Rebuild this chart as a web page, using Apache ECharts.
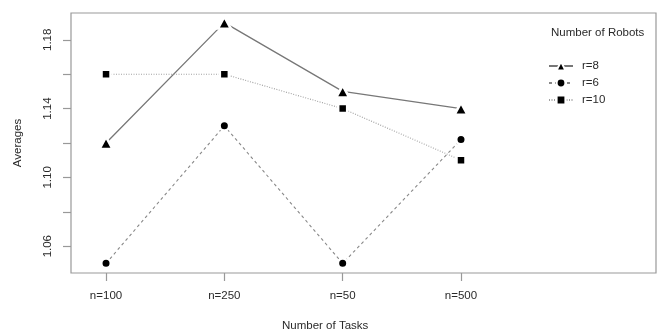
<!DOCTYPE html>
<html><head><meta charset="utf-8">
<script src="https://cdn.jsdelivr.net/npm/echarts@6/dist/echarts.min.js"></script>
<style>html,body{margin:0;padding:0;background:#fff}#c{width:661px;height:336px}</style>
</head><body><div id="c"></div>
<script>
var categories = ['n=100', 'n=250', 'n=50', 'n=500'];
var seriesNames = ['r=8', 'r=6', 'r=10'];
var r8 = [1.12, 1.19, 1.15, 1.14];
var r6 = [1.05, 1.13, 1.05, 1.122];
var r10 = [1.16, 1.16, 1.14, 1.11];
var yTicks = [1.06, 1.08, 1.10, 1.12, 1.14, 1.16, 1.18];
var yLabels = [1.06, 1.10, 1.14, 1.18];

function pts(arr){ return arr.map(function(v,i){ return [i+1, v]; }); }
var font = 'Liberation Sans, Arial, sans-serif';
var txt = '#2a2a2a';
var chart = echarts.init(document.getElementById('c'), null, {renderer:'canvas'});
chart.setOption({
  animation: false,
  backgroundColor: '#fff',
  grid: {left: 71, top: 13, right: 5, bottom: 63, show: true, borderColor: '#999', borderWidth: 1.2, backgroundColor: 'transparent'},
  xAxis: {
    type: 'value', min: 0.704, max: 5.648,
    axisLine: {show: false},
    splitLine: {show: false},
    axisTick: {show: true, customValues: [1,2,3,4], length: 8, inside: false, lineStyle: {color: '#999', width: 1.2}},
    axisLabel: {customValues: [1,2,3,4], margin: 17, fontSize: 11.5, fontFamily: font, color: txt,
      formatter: function(v){ return categories[Math.round(v)-1] || ''; }}
  },
  yAxis: {
    type: 'value', min: 1.0444, max: 1.1956,
    axisLine: {show: false},
    splitLine: {show: false},
    axisTick: {show: true, customValues: yTicks, length: 8, inside: false, lineStyle: {color: '#999', width: 1.2}},
    axisLabel: {customValues: yLabels, margin: 17, rotate: 90, fontSize: 11.5, fontFamily: font, color: txt,
      formatter: function(v){ return v.toFixed(2); }}
  },
  legend: {
    orient: 'vertical', left: 543, top: 55, itemWidth: 24, itemHeight: 11, itemGap: 5,
    data: seriesNames,
    textStyle: {fontSize: 11.5, fontFamily: font, color: txt, padding: [0,0,0,4]}
  },
  graphic: [
    {type: 'text', left: 551, top: 27, style: {text: 'Number of Robots', font: '11.5px ' + font, fill: txt}},
    {type: 'text', left: 282, top: 320, style: {text: 'Number of Tasks', font: '11.5px ' + font, fill: txt}},
    {type: 'text', x: 18, y: 143, rotation: Math.PI/2, style: {text: 'Averages', font: '11.5px ' + font, fill: txt, align: 'center', verticalAlign: 'middle'}}
  ],
  series: [
    {name: 'r=8', type: 'line', data: pts(r8), symbol: 'triangle', symbolSize: [13, 12],
      lineStyle: {color: '#777', width: 1.3, type: 'solid'},
      itemStyle: {color: '#000', borderColor: '#fff', borderWidth: 2.5}},
    {name: 'r=6', type: 'line', data: pts(r6), symbol: 'circle', symbolSize: 9.5,
      lineStyle: {color: '#888', width: 1.1, type: [3,3]},
      itemStyle: {color: '#000', borderColor: '#fff', borderWidth: 2.5}},
    {name: 'r=10', type: 'line', data: pts(r10), symbol: 'rect', symbolSize: 9,
      lineStyle: {color: '#a0a0a0', width: 1.1, type: [1,1.5]},
      itemStyle: {color: '#000', borderColor: '#fff', borderWidth: 2.5}}
  ]
});
</script></body></html>
